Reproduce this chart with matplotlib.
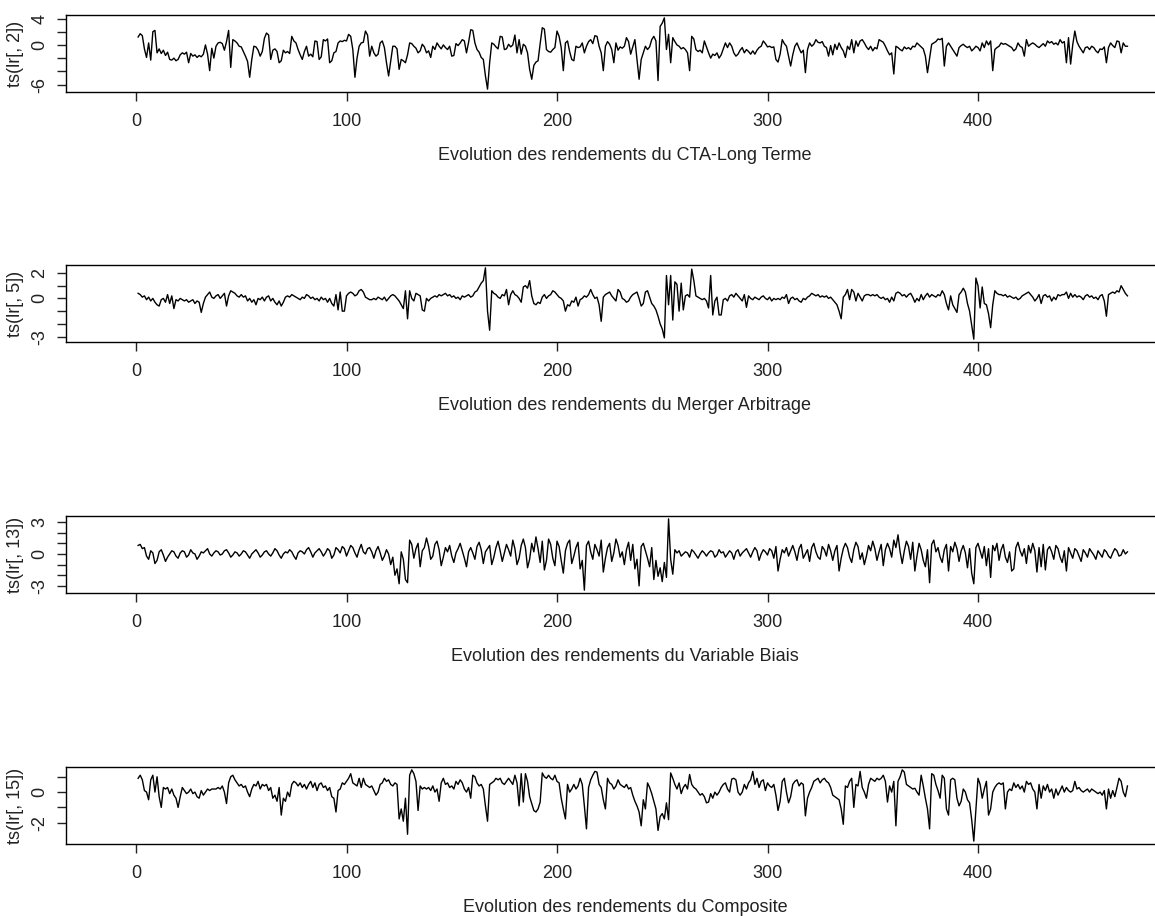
import numpy as np
import matplotlib
matplotlib.use('Agg')
import matplotlib.pyplot as plt

plt.rcParams['font.family'] = ['Liberation Sans', 'DejaVu Sans']

#Returns, one value per period
cta_long_terme = [
    1.2, 1.7, 1.4, -0.6, -1.9, 0.3, -2.3, 2.0, 2.2, -1.2,
    -0.6, -1.3, -0.8, -1.6, -1.1, -2.2, -2.3, -2.0, -2.4, -2.2,
    -1.5, -1.2, -1.4, -1.1, -2.7, -1.3, -1.7, -1.5, -1.9, -1.6,
    -1.8, -1.4, 0.0, -1.4, -3.9, -0.5, -2.0, -0.2, 0.3, 0.4,
    0.2, -0.8, 0.5, 2.2, -3.4, 0.8, 0.6, 0.3, -0.2, -0.3,
    -1.0, -1.7, -2.5, -4.9, -2.2, -0.2, -0.3, -0.8, -1.7, -1.0,
    1.0, 1.8, 1.5, -2.2, -0.8, -0.6, -1.0, -2.7, -2.4, -0.8,
    -1.2, -1.0, -1.3, 1.3, 0.6, 0.3, -0.7, -1.5, -2.2, -1.0,
    -0.2, -1.7, -1.4, -1.8, 0.6, 0.5, -2.2, -1.8, 0.8, 0.6,
    0.9, -2.7, -2.4, -1.2, -1.0, 0.3, 0.6, 0.5, 0.7, 0.6,
    1.6, 1.3, -0.7, -4.9, -2.0, -0.2, 0.3, 0.4, 2.1, 1.5,
    -1.7, -0.2, -1.2, -1.7, -1.4, 0.3, 0.6, -0.4, -2.7, -4.7,
    -2.5, -0.2, -0.2, -0.6, -3.7, -2.2, -2.4, -2.7, -1.5, 0.3,
    0.2, -0.2, -0.5, -1.2, -0.9, 0.1, -0.3, -1.2, -0.9, -1.9,
    -0.2, -0.7, 0.3, -0.2, -0.6, 0.0, -0.4, -0.7, -0.2, -1.7,
    -1.6, 0.2, -0.1, 0.3, 0.8, 0.6, -1.2, 0.4, 2.3, 2.2,
    0.3, -0.7, -1.1, -1.9, -2.2, -4.7, -6.7, -2.7, 0.3, 0.1,
    -0.3, -0.6, 1.3, 1.2, -0.7, -0.6, 0.1, -0.3, 0.0, 1.5,
    -1.2, 0.8, -1.4, 0.1, -0.2, -1.2, -3.7, -5.2, -3.1, -2.6,
    -2.4, 0.2, 2.6, 2.4, -0.7, -1.0, -1.1, -0.7, -0.4, 2.1,
    1.3, -0.4, -3.9, 0.3, 0.6, -1.0, -2.2, -2.4, -0.2, -0.4,
    -0.3, 0.3, -1.2, -0.2, 0.5, 0.8, 0.2, 1.4, 1.3, -0.2,
    -1.2, -3.9, -0.2, 0.5, 0.1, -0.7, -2.7, 0.3, -0.8, -0.3,
    -0.5, -0.2, 1.1, 0.5, -1.4, -0.3, 0.8, -2.2, -5.2, -2.2,
    -1.2, -0.2, -0.7, -0.3, 0.8, 1.3, 0.6, -5.4, 2.8, 3.3,
    4.1, -0.7, 1.6, -2.7, 1.1, 0.5, 0.0, -0.2, -0.6, -0.4,
    -0.7, -1.2, -3.9, 1.3, 0.9, -0.7, -1.0, -0.8, -1.2, 0.6,
    -0.3, -1.2, -2.0, -1.4, -1.6, -1.2, -2.0, -1.5, -0.6, 0.3,
    -0.4, 0.3, -0.2, -1.2, -1.7, -1.4, -0.8, -0.4, -1.2, -0.7,
    -1.0, -1.4, -0.9, -1.4, -0.8, -0.4, -0.2, 0.6, 0.2, -0.3,
    -0.2, -0.4, -0.3, -2.2, -2.6, -1.4, 0.8, 0.2, -0.2, -1.7,
    -3.2, -1.5, -0.2, 0.3, -0.5, -1.2, -0.8, -4.2, -0.7, 0.3,
    -0.2, 0.1, 0.8, 0.4, 0.3, 0.5, -0.2, -0.4, -1.7, -0.1,
    -1.5, 0.1, -0.7, 0.3, -0.4, -0.9, -1.9, -0.2, -0.7, 0.8,
    -1.2, 0.6, -0.2, 0.6, 0.8, 0.3, -0.3, -0.7, -0.2, -0.9,
    -0.4, -0.6, 0.8, 0.6, 0.4, -0.2, -0.9, -1.5, -1.2, -4.4,
    -0.2, -0.4, -0.7, -0.9, -0.3, -0.6, -0.4, -0.7, -0.2, -0.3,
    0.3, 0.0, -0.3, -0.6, -1.7, -4.2, -2.0, 0.1, 0.3, 0.5,
    0.9, 0.8, 1.0, -3.2, -0.2, 0.3, -0.2, -0.7, -1.2, -1.7,
    -0.4, -0.1, 0.1, -0.2, -0.4, -0.2, -0.9, -0.6, -0.2, -0.4,
    -0.9, 0.3, -0.4, 0.6, 0.0, 0.6, -3.9, -0.7, -0.4, -0.2,
    0.3, 0.1, 0.2, 0.0, -0.2, -0.4, -0.9, -0.6, 0.3, -0.2,
    -0.4, -1.7, 0.8, -0.2, 0.1, 0.3, 0.1, -0.2, -0.4, -0.1,
    0.2, -0.2, 0.6, 0.3, 0.5, 0.1, 0.3, 0.0, 0.8, 0.3,
    0.5, -2.7, 1.1, -2.9, 0.0, 2.1, 0.5, -0.2, -0.7, -1.2,
    -0.4, -0.3, -0.7, -0.2, -0.4, -0.9, -1.2, -0.6, -0.7, -0.3,
    -2.7, -0.4, 0.3, -0.1, -0.4, 0.6, 0.5, -1.2, 0.3, -0.2, -0.2,
]

merger_arbitrage = [
    0.4, 0.3, 0.1, 0.2, -0.1, 0.1, -0.2, 0.0, -0.3, -0.5,
    -0.6, -0.1, 0.0, -0.3, 0.3, -0.4, 0.2, -0.8, -0.1, -0.2,
    0.0, -0.1, -0.2, -0.1, -0.3, -0.2, -0.1, -0.4, -0.2, -0.3,
    -1.1, -0.4, 0.1, 0.3, 0.5, 0.1, 0.0, 0.2, 0.3, 0.0,
    0.2, 0.4, -0.6, 0.2, 0.6, 0.5, 0.4, 0.2, 0.1, 0.3,
    0.1, 0.2, -0.2, 0.0, -0.3, -0.1, -0.5, 0.0, -0.1, 0.1,
    -0.2, 0.1, 0.2, -0.2, 0.0, -0.3, -0.5, -0.2, -0.6, -0.3,
    0.1, 0.2, 0.1, 0.3, 0.2, 0.1, 0.0, -0.1, 0.1, 0.0,
    0.3, 0.2, 0.0, 0.1, -0.1, 0.0, -0.2, 0.1, -0.1, 0.0,
    -0.3, 0.0, -0.4, -0.6, 0.3, -0.9, 0.5, -1.0, -1.0, 0.2,
    0.4, 0.5, 0.4, 0.2, 0.3, 0.6, 0.7, 0.5, 0.1, 0.0,
    -0.1, -0.1, 0.0, -0.1, 0.1, 0.0, -0.1, 0.1, -0.2, 0.0,
    0.2, 0.3, 0.2, 0.0, -0.2, -0.5, -0.8, 0.6, -1.6, 0.6,
    0.0, -0.2, 0.4, 0.3, 0.2, -0.9, -1.0, 0.0, -0.2, 0.0,
    0.1, 0.2, 0.1, 0.3, 0.2, 0.3, 0.4, 0.2, 0.3, 0.1,
    0.2, 0.0, 0.1, -0.1, 0.2, 0.1, 0.2, 0.3, 0.1, 0.2,
    0.5, 0.6, 0.9, 1.2, 1.4, 2.4, -1.0, -2.5, 0.6, 0.4,
    0.3, 0.1, 0.0, 0.3, 0.2, 0.7, -0.5, 0.3, 0.6, 0.3,
    0.2, 0.0, -0.3, 0.9, 1.0, 0.8, 1.4, 0.2, -0.4, -0.5,
    -0.3, -0.4, 0.1, 0.3, 0.0, 0.2, 0.3, 0.6, 0.5, 0.3,
    0.1, 0.0, -0.2, -1.0, -0.5, -0.6, -0.2, -0.3, 0.1, -0.6,
    -0.1, 0.0, 0.2, 0.1, 0.3, 0.7, 0.3, 0.0, 0.1, -0.5,
    -1.8, 0.1, 0.3, 0.4, 0.5, 0.2, 0.0, -0.2, 0.7, 0.5,
    0.0, -0.1, -0.3, -0.2, 0.1, 0.3, 0.4, 0.5, 0.0, -0.6,
    -0.4, 0.5, 0.6, 0.1, -0.4, -0.6, -0.9, -1.4, -2.0, -2.4,
    -3.1, 1.8, -0.5, 1.8, -1.7, 1.3, 1.1, -1.0, 1.2, -0.9,
    0.2, 0.3, 0.1, 2.3, 1.4, 0.2, 0.1, 0.0, -0.1, 0.0,
    -0.2, -0.75, 1.8, -1.3, -0.2, 0.1, -1.3, -1.3, -0.1, 0.0,
    -0.2, 0.2, 0.3, 0.1, 0.4, 0.2, 0.0, -0.2, 0.3, -0.7,
    0.2, 0.0, -0.1, 0.1, 0.0, -0.1, 0.1, 0.2, 0.0, -0.1,
    0.1, -0.2, 0.0, -0.1, 0.0, -0.1, 0.1, 0.0, 0.3, -0.4,
    0.0, 0.1, -0.1, 0.0, -0.2, -0.3, 0.0, -0.1, 0.1, 0.2,
    0.4, 0.3, 0.2, 0.3, 0.1, 0.2, 0.1, 0.2, 0.0, 0.1,
    -0.1, -0.3, -0.5, -1.0, -1.6, 0.1, 0.3, 0.7, -0.1, 0.7,
    0.5, -0.2, 0.4, 0.1, -0.2, 0.2, 0.3, 0.3, 0.2, 0.3,
    0.2, 0.3, 0.1, 0.0, 0.1, -0.1, 0.0, -0.3, 0.1, -0.2,
    0.4, 0.5, 0.4, 0.2, 0.3, 0.1, 0.3, 0.4, 0.1, -0.3,
    0.0, -0.2, 0.3, -0.1, 0.2, 0.4, 0.1, 0.3, 0.2, 0.1,
    0.3, 0.2, 0.6, 0.3, -0.4, -0.9, 0.2, -0.5, -0.8, -1.1,
    0.3, 0.5, 0.8, 0.5, -0.4, -1.0, -2.1, -3.2, 1.6, 1.0,
    -0.75, 0.9, -0.4, -0.5, -1.2, -2.3, -0.5, 0.6, 0.4, 0.3,
    0.3, 0.2, 0.3, 0.1, 0.2, 0.1, 0.0, 0.1, -0.1, 0.0,
    0.2, 0.3, 0.4, 0.5, 0.3, 0.1, -0.2, 0.0, 0.3, -0.4,
    0.2, 0.3, 0.1, 0.2, -0.2, 0.1, -0.1, 0.3, 0.2, 0.3,
    0.3, 0.5, 0.0, 0.4, 0.1, 0.3, 0.1, 0.2, 0.1, -0.1,
    0.2, 0.3, 0.1, 0.2, 0.0, 0.1, -0.1, 0.2, 0.3, -0.2,
    -1.4, 0.3, 0.4, 0.5, 0.4, 0.6, 0.5, 1.0, 0.7, 0.4, 0.2,
]

variable_biais = [
    0.8, 0.9, 0.5, 0.6, -0.2, -0.5, 0.3, 0.1, -0.9, -0.6,
    0.2, 0.4, -0.1, -0.7, -0.3, 0.0, 0.3, 0.2, -0.2, -0.4,
    0.1, 0.3, 0.2, -0.3, -0.1, 0.4, 0.1, 0.0, -0.5, -0.2,
    0.2, 0.1, 0.3, 0.5, 0.0, -0.2, 0.1, 0.3, 0.2, -0.1,
    0.0, 0.3, 0.4, 0.1, -0.3, -0.1, 0.2, 0.1, -0.2, 0.0,
    0.3, 0.2, -0.1, -0.4, 0.0, 0.2, 0.4, 0.1, -0.3, -0.1,
    0.2, 0.3, 0.0, -0.2, 0.1, 0.5, 0.3, -0.1, -0.4, 0.0,
    0.2, 0.1, 0.4, 0.2, -0.2, -0.5, 0.1, 0.3, 0.2, 0.0,
    0.4, 0.6, 0.2, -0.3, 0.1, 0.3, 0.5, 0.2, -0.2, 0.1,
    0.5, 0.3, -0.4, -0.1, 0.6, 0.4, 0.1, 0.7, 0.5, -0.2,
    0.3, 0.8, 0.6, 0.1, -0.3, 0.4, 0.9, 0.2, 0.0, 0.5,
    0.6, 0.2, -0.4, 0.3, 0.7, 0.1, -0.6, -0.2, 0.4, 0.0,
    -1.0, -0.3, -2.0, -1.4, -2.8, 0.2, -0.5, -2.4, -2.7, 1.3,
    0.9, -0.4, 0.5, 1.0, -1.2, 0.3, 0.6, 1.5, 0.7, -0.5,
    -0.2, 0.9, 1.2, 0.4, -1.1, -0.3, 0.6, 0.2, 0.8, -0.2,
    -0.8, 0.1, 0.5, 1.0, 0.3, -0.4, -1.2, 0.2, 0.6, 0.1,
    -0.5, 0.7, 1.1, 0.4, -0.9, 0.2, 0.5, 0.8, -1.0, -0.3,
    0.6, 1.2, 0.3, -0.7, 0.1, 0.9, 0.4, -0.2, 1.3, 0.5,
    -1.0, -0.4, 0.8, 1.4, 0.6, -1.3, -0.5, 1.0, 0.2, 1.6,
    0.5, -0.8, 1.2, -1.5, -0.6, 1.4, 0.9, -0.4, -1.1, 1.2,
    0.7, -0.6, -1.8, 0.3, 1.0, 1.3, -0.9, -0.2, 0.6, 1.1,
    -1.4, -0.6, -3.4, 0.8, 1.2, 0.2, -0.5, 0.9, 0.4, -0.2,
    1.3, -1.7, -0.4, 0.6, 1.0, -0.7, 0.1, 1.4, 0.8, -0.3,
    0.2, -1.0, 0.4, 1.1, -0.6, 0.9, -1.4, -0.5, -3.0, 0.7,
    1.0, 0.3, -0.4, -1.2, 0.6, -2.4, -0.6, -2.1, -1.3, -2.6,
    -0.8, -2.2, 3.3, -0.5, -1.9, 0.4, 0.1, 0.3, -0.2, 0.0,
    0.2, 0.1, -0.3, 0.4, 0.2, -0.1, -0.4, 0.0, 0.3, 0.1,
    -0.2, 0.1, 0.3, 0.2, -0.3, -0.1, 0.4, 0.1, 0.2, -0.3,
    0.0, 0.3, 0.1, -0.5, 0.2, 0.4, -0.2, 0.1, 0.3, 0.5,
    0.1, -0.3, 0.2, 0.6, 0.3, -0.6, 0.0, 0.4, 0.2, -0.1,
    0.5, 0.3, -0.4, 0.7, -1.6, -0.5, 0.4, 0.1, 0.6, -0.2,
    0.3, 0.8, 0.2, -0.6, 0.5, 0.9, -0.4, 0.0, 0.4, -0.7,
    0.6, 1.0, 0.2, -0.3, -0.5, 0.7, 0.4, -0.2, 0.9, 0.3,
    -0.6, 0.3, 0.8, -1.6, -0.4, 0.5, 1.0, 0.6, -0.3, -0.8,
    0.4, 1.1, 0.7, -0.5, 0.1, -1.0, -0.2, 0.8, 0.3, 1.2,
    0.5, -0.6, 0.2, 0.9, -1.1, 0.4, 1.0, 0.5, -0.3, 1.3,
    0.6, 1.8, 0.2, -0.9, 0.3, 1.2, 0.7, -0.5, 1.1, -1.6,
    -0.2, 1.0, 0.4, -0.6, -1.2, 0.4, -2.7, 0.9, 1.3, 0.2,
    0.6, -0.3, -0.8, 0.4, 0.9, -1.6, 0.7, 0.2, 1.1, 0.5,
    -0.7, 0.3, 0.8, 0.1, -1.3, 0.5, -1.8, -2.8, 0.6, 1.0,
    0.3, -0.4, 0.7, -1.1, 0.5, -2.2, 0.8, 0.3, 1.0, -0.6,
    0.4, 0.9, -0.3, -0.8, 0.2, -1.6, -1.4, 0.6, 1.1, 0.3,
    -0.2, 0.5, -0.9, 0.8, 0.1, 1.0, 0.3, -1.7, 0.6, -1.2,
    0.9, -1.5, 0.4, 0.7, 0.2, -0.5, 0.8, 0.5, -0.3, -0.8,
    0.3, -1.6, 0.6, 0.1, -0.4, 0.5, 0.3, -0.2, -0.7, 0.4,
    0.1, -0.3, 0.5, 0.2, -0.1, -0.5, 0.3, 0.0, -0.3, 0.4,
    0.2, -0.2, -0.4, 0.1, 0.5, 0.3, -0.2, -0.1, 0.4, 0.0, 0.2,
]

composite = [
    0.9, 1.1, 0.8, 0.1, 0.0, -0.5, 0.8, 1.1, 0.0, 1.0,
    -0.3, -1.0, 0.3, 0.2, 0.3, -0.1, 0.2, -0.2, -0.4, -1.0,
    -0.3, 0.3, 0.1, -0.1, 0.0, 0.2, -0.1, 0.0, -0.3, -0.4,
    0.1, -0.2, 0.0, 0.2, 0.1, 0.2, 0.2, 0.2, 0.3, 0.2,
    0.4, 0.0, -0.75, 0.6, 1.0, 1.1, 0.8, 0.6, 0.4, 0.5,
    0.3, 0.4, 0.0, -0.3, 0.2, 0.5, 0.4, 0.7, 0.2, 0.5,
    0.4, 0.5, 0.1, 0.3, -0.4, -0.2, -0.6, 0.3, -1.5, -0.4,
    -0.6, 0.0, -0.3, 0.5, 0.7, 0.6, 0.4, 0.6, 0.3, 0.5,
    0.2, 0.5, 0.7, 0.3, 0.6, 0.1, 0.5, 0.6, 0.3, 0.4,
    0.1, 0.3, -0.3, -0.4, -1.3, 0.1, 0.2, 0.6, 0.5, 0.7,
    0.9, 1.2, 0.6, 0.5, 0.4, 0.9, 0.3, 0.9, 0.5, 0.4,
    0.3, 0.4, 0.1, -0.2, 0.0, 0.5, 0.6, 0.9, 0.7, 0.8,
    0.5, 0.4, 0.6, 0.5, -1.75, -1.1, -1.9, -0.4, -2.75, 1.1,
    1.45, 1.2, 0.7, -1.2, 0.4, 0.2, 0.3, 0.2, 0.3, 0.1,
    0.4, 0.0, 0.2, -0.6, 0.6, 0.9, 0.5, 0.6, 0.3, 0.4,
    0.2, 0.7, 0.5, 0.8, 0.6, 0.2, 0.0, 0.3, -0.4, 1.1,
    1.0, 0.6, 0.4, 0.5, 0.2, -0.9, -1.9, 0.5, 0.6, 0.7,
    0.9, 0.8, 0.9, 0.6, 0.5, 0.7, 0.9, 0.7, 0.5, 1.1,
    0.6, -0.9, 1.2, -0.65, 1.2, 0.7, -0.3, -0.75, -1.2, -1.3,
    -1.1, -0.65, 1.25, 1.0, 0.9, 1.1, 0.9, 0.8, 1.1, 0.7,
    0.6, -0.4, -1.1, -1.75, 0.5, 0.0, 0.2, 0.5, 0.2, 0.4,
    0.9, 0.5, -0.9, -2.4, 0.3, 0.8, 1.1, 1.35, 1.3, 0.5,
    0.3, -0.5, -1.1, 0.9, 0.6, 0.5, 0.2, 0.4, 0.8, 0.5,
    0.4, 0.3, 0.5, 0.2, 0.3, -0.2, -0.6, -0.9, -1.3, -2.2,
    -0.5, -1.1, 0.6, 0.3, -0.1, -0.6, -1.1, -2.5, -1.6, -1.4,
    -1.75, -0.7, -1.8, 1.25, 0.9, 0.5, 0.2, 0.6, -0.1, 0.3,
    0.5, 0.2, 1.15, 0.5, 0.3, 0.2, 0.0, -0.2, -0.1, -0.3,
    -0.7, -0.65, -0.1, -0.4, 0.0, -0.2, 0.0, 0.3, 0.5, 0.6,
    0.2, 0.0, 0.85, 0.9, 0.8, 0.0, -0.2, 0.0, 0.5, 0.2,
    0.6, 0.8, 1.35, 0.5, 0.9, 0.3, 0.7, 0.8, 0.1, 0.6,
    0.4, 0.3, 0.5, -0.2, -1.2, -0.6, 0.7, 0.9, 0.0, -0.7,
    -0.3, 0.5, 0.7, 0.8, 0.4, 0.6, 0.5, -1.55, -0.4, 0.0,
    0.3, 0.7, 0.8, 0.9, 0.6, 0.8, 0.9, 0.7, 0.6, 0.3,
    -0.2, -0.3, -0.4, -0.5, -1.1, -2.1, 0.4, 0.3, 0.7, 0.9,
    -1.0, 0.5, 0.4, 1.35, 0.3, 0.0, -0.4, 0.5, 0.9, 0.8,
    0.7, 0.9, 0.8, 0.9, 1.1, 0.7, -0.65, 0.4, 0.0, 0.7,
    -2.2, 0.7, 1.0, 1.45, 1.3, 0.5, 0.4, 0.3, 0.2, 0.25,
    0.0, -0.2, 1.1, 0.4, -0.4, -1.1, -2.4, 1.2, 1.1, 0.5,
    0.1, -0.4, 1.1, 0.9, -1.1, -1.5, 0.8, 0.9, 0.8, -0.4,
    -0.9, -0.6, 0.2, 0.0, -0.5, -0.7, -1.8, -3.2, -1.1, 0.9,
    0.5, -0.4, 0.2, 0.7, -1.5, -1.1, 0.0, 0.3, 0.5, 0.6,
    0.5, 0.6, -1.1, 0.0, 0.2, 0.1, 0.6, 0.3, 0.5, 0.2,
    0.4, 0.0, 0.7, 0.5, 0.6, 0.2, 0.0, -1.1, 0.5, -0.4,
    0.4, 0.1, 0.5, 0.0, 0.2, -0.4, 0.2, -0.2, 0.1, 0.4,
    0.0, 0.3, 0.1, 0.0, 0.1, 0.7, 0.2, 0.3, 0.1, 0.0,
    0.1, 0.2, 0.0, 0.2, 0.1, 0.0, -0.1, 0.0, -0.2, 0.1,
    -1.1, 0.2, -0.4, 0.1, -0.3, 0.3, 0.9, 0.7, 0.0, -0.3, 0.4,
]

series = [cta_long_terme, merger_arbitrage, variable_biais, composite]
y_labels = ['ts(lr[, 2])', 'ts(lr[, 5])', 'ts(lr[, 13])', 'ts(lr[, 15])']
titles = ['Evolution des rendements du CTA-Long Terme',
          'Evolution des rendements du Merger Arbitrage',
          'Evolution des rendements du Variable Biais',
          'Evolution des rendements du Composite']
y_ticks = [[-6, -4, -2, 0, 2, 4], [-3, -2, -1, 0, 1, 2],
           [-3, -2, -1, 0, 1, 2, 3], [-2, -1, 0, 1]]
y_tick_labels = [['-6', '', '', '0', '', '4'], ['-3', '', '', '0', '', '2'],
                 ['-3', '', '', '0', '', '', '3'], ['-2', '', '0', '']]
x_ticks = [0, 100, 200, 300, 400]

W, H = 1155, 916
fig = plt.figure(figsize=(W / 100, H / 100), dpi=100)

#panel boxes in pixels, the right side runs off the picture
box_left, box_right = 66, 1184
box_tops = [15, 265, 516, 767]
box_h = 77
#pixel position of x=0 and pixels per period
x0_px, px_per = 136, 2.105

for i in range(4):
    ax = fig.add_axes([box_left / W, 1 - (box_tops[i] + box_h) / H,
                       (box_right - box_left) / W, box_h / H])
    y = np.array(series[i])
    x = np.arange(1, len(y) + 1)
    ax.plot(x, y, color='black', lw=1.0)

    ax.set_xlim((box_left - x0_px) / px_per, (box_right - x0_px) / px_per)
    #R style 4% padding around the data
    pad_y = 0.04 * (y.max() - y.min())
    ax.set_ylim(y.min() - pad_y, y.max() + pad_y)

    ax.set_xticks(x_ticks)
    ax.set_yticks(y_ticks[i])
    ax.set_yticklabels(y_tick_labels[i], rotation=90, va='center')
    ax.tick_params(direction='out', length=6.7, width=1, colors='#222222',
                   labelsize=13)
    ax.tick_params(axis='x', pad=8.5)
    ax.tick_params(axis='y', pad=6)
    for side in ax.spines.values():
        side.set_linewidth(1)
        side.set_color('black')
    ax.set_ylabel(y_labels[i], fontsize=13, color='#222222', labelpad=5)
    ax.set_xlabel(titles[i], fontsize=13, color='#222222', labelpad=12)

fig.savefig('out.png', dpi=100)
